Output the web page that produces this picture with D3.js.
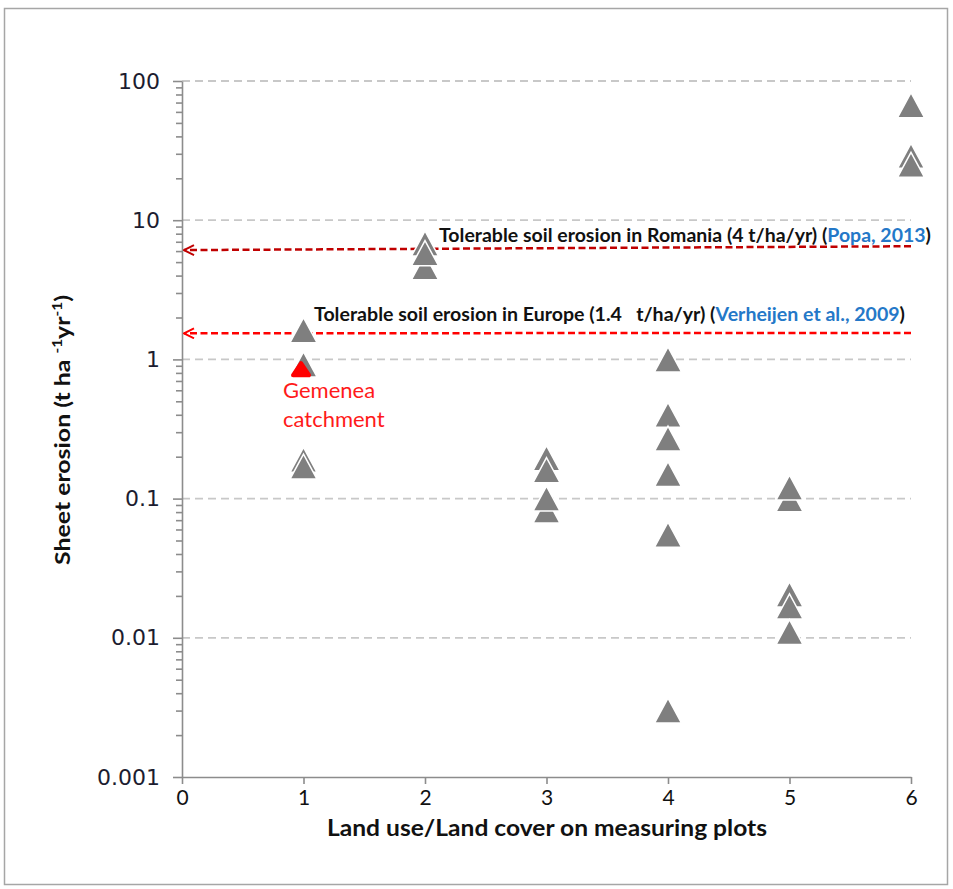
<!DOCTYPE html>
<html>
<head>
<meta charset="utf-8">
<script src="https://cdn.jsdelivr.net/npm/d3@7"></script>
<style>
body { margin: 0; background: #fff; }
text { font-family: Lato, "Open Sans", sans-serif; }
</style>
</head>
<body>
<div id="plot"></div>
<script>
// measuring plots, in draw order (later ones sit on top)
var plotLandUse = [1, 1, 1, 1,
                   2, 2, 2,
                   3, 3, 3, 3,
                   4, 4, 4, 4, 4, 4,
                   5, 5, 5, 5, 5,
                   6, 6, 6];
var plotErosion = [0.19, 0.17, 0.92, 1.62,
                   6.8, 4.6, 5.8,
                   0.195, 0.16, 0.082, 0.1,
                   1.0, 0.4, 0.27, 0.15, 0.055, 0.003,
                   0.099, 0.12, 0.0205, 0.0168, 0.011,
                   67, 29, 25];

var gemeneaLandUse = [0.98];
var gemeneaErosion = [0.85];

var yTicks = [0.001, 0.01, 0.1, 1, 10, 100];
var yTickLabels = ["0.001", "0.01", "0.1", "1", "10", "100"];
var xTicks = [0, 1, 2, 3, 4, 5, 6];

// tolerable limits: value at left (axis) and right end of the arrow line
var limitLeft = [6.1, 1.54];
var limitRight = [6.5, 1.55];
var limitColor = ["#c00000", "#ff0000"];

var W = 953, H = 889;
var svg = d3.select("#plot").append("svg")
	.attr("width", W)
	.attr("height", H);

svg.append("rect")
	.attr("x", 4.5).attr("y", 8.5)
	.attr("width", 943).attr("height", 876)
	.attr("fill", "none")
	.attr("stroke", "#a6a6a6")
	.attr("stroke-width", 1.5);

var x = d3.scaleLinear().domain([0, 6]).range([182, 911]);
var y = d3.scaleLog().domain([0.001, 100]).range([777, 81]);

// grid
svg.append("g").selectAll("line")
	.data(yTicks.slice(1))
	.enter().append("line")
	.attr("x1", x(0)).attr("x2", x(6))
	.attr("y1", function(d){ return y(d); })
	.attr("y2", function(d){ return y(d); })
	.attr("stroke", "#c8c8c8")
	.attr("stroke-width", 1.8)
	.attr("stroke-dasharray", "8,5");

// y axis minor ticks
var minor = y.ticks().filter(function(d){ return yTicks.indexOf(d) < 0; });
svg.append("g")
	.attr("transform", "translate(" + x(0) + ",0)")
	.call(d3.axisLeft(y).tickValues(minor).tickSize(6).tickSizeOuter(0).tickFormat(""))
	.call(function(g){ g.select(".domain").remove(); });

var yAxis = svg.append("g")
	.attr("transform", "translate(" + x(0) + ",0)")
	.call(d3.axisLeft(y).tickValues(yTicks).tickSize(9).tickSizeOuter(0)
		.tickFormat(function(d, i){ return yTickLabels[i]; }));
yAxis.selectAll("text")
	.attr("x", -22)
	.style("font-family", "'DejaVu Sans', Verdana, sans-serif")
	.style("font-size", "22px")
	.attr("fill", "#1c1c30");

var xAxis = svg.append("g")
	.attr("transform", "translate(0," + y(0.001) + ")")
	.call(d3.axisBottom(x).tickValues(xTicks).tickSize(7).tickSizeOuter(0)
		.tickFormat(d3.format("d")));
xAxis.selectAll("text")
	.attr("y", 13)
	.style("font-size", "21px")
	.attr("fill", "#111");

svg.selectAll(".domain, .tick line")
	.attr("stroke", "#8c8c8c")
	.attr("stroke-width", 1.6);

// axis titles
svg.append("text")
	.attr("x", 547).attr("y", 836)
	.attr("text-anchor", "middle")
	.attr("textLength", 440)
	.attr("lengthAdjust", "spacingAndGlyphs")
	.style("font-size", "22px")
	.style("font-weight", "bold")
	.attr("fill", "#111")
	.text("Land use/Land cover on measuring plots");

var yt = svg.append("text")
	.attr("transform", "translate(70,430) rotate(-90)")
	.attr("text-anchor", "middle")
	.attr("textLength", 270)
	.attr("lengthAdjust", "spacingAndGlyphs")
	.style("font-size", "21px")
	.style("font-weight", "bold")
	.attr("fill", "#111");
yt.append("tspan").text("Sheet erosion (t ha ");
yt.append("tspan").attr("dy", -8).style("font-size", "13px").text("-1");
yt.append("tspan").attr("dy", 8).text("yr");
yt.append("tspan").attr("dy", -8).style("font-size", "13px").text("-1");
yt.append("tspan").attr("dy", 8).text(")");

// tolerable limit arrows
svg.append("defs").selectAll("marker")
	.data(limitColor)
	.enter().append("marker")
	.attr("id", function(d, i){ return "arr" + i; })
	.attr("viewBox", "0 0 12 12")
	.attr("refX", 11).attr("refY", 6)
	.attr("markerWidth", 12).attr("markerHeight", 12)
	.attr("markerUnits", "userSpaceOnUse")
	.attr("orient", "auto")
	.append("path")
	.attr("d", "M1,1 L11,6 L1,11")
	.attr("fill", "none")
	.attr("stroke", function(d){ return d; })
	.attr("stroke-width", 2);

svg.append("g").selectAll("line")
	.data(limitLeft)
	.enter().append("line")
	.attr("x1", x(6)).attr("x2", x(0) + 2)
	.attr("y1", function(d, i){ return y(limitRight[i]); })
	.attr("y2", function(d){ return y(d); })
	.attr("stroke", function(d, i){ return limitColor[i]; })
	.attr("stroke-width", 2.5)
	.attr("stroke-dasharray", "7,3.5")
	.attr("marker-end", function(d, i){ return "url(#arr" + i + ")"; });

// plot markers
function tri(w, h) {
	return "M0," + (-h / 2) + "L" + (w / 2) + "," + (h / 2) + "L" + (-w / 2) + "," + (h / 2) + "Z";
}

svg.append("g").selectAll("path")
	.data(plotErosion)
	.enter().append("path")
	.attr("d", tri(27, 25))
	.attr("transform", function(d, i){ return "translate(" + x(plotLandUse[i]) + "," + y(d) + ")"; })
	.attr("fill", "#7f7f7f")
	.attr("stroke", "#fff")
	.attr("stroke-width", 1.5);

svg.append("g").selectAll("path")
	.data(gemeneaErosion)
	.enter().append("path")
	.attr("d", tri(16, 12))
	.attr("transform", function(d, i){ return "translate(" + x(gemeneaLandUse[i]) + "," + y(d) + ")"; })
	.attr("fill", "#ff0000")
	.attr("stroke", "#ff0000")
	.attr("stroke-width", 4)
	.attr("stroke-linejoin", "round");

// annotations
var t1 = svg.append("text")
	.attr("x", 439).attr("y", 242)
	.attr("textLength", 492)
	.attr("lengthAdjust", "spacingAndGlyphs")
	.style("font-size", "18px")
	.style("font-weight", "bold")
	.attr("fill", "#111");
t1.append("tspan").text("Tolerable soil erosion in Romania (4 t/ha/yr) (");
t1.append("tspan").attr("fill", "#2478c8").text("Popa, 2013");
t1.append("tspan").text(")");

var t2 = svg.append("text")
	.attr("x", 314).attr("y", 321)
	.attr("textLength", 591)
	.attr("lengthAdjust", "spacingAndGlyphs")
	.style("font-size", "18px")
	.style("font-weight", "bold")
	.style("white-space", "pre")
	.attr("fill", "#111");
t2.append("tspan").text("Tolerable soil erosion in Europe (1.4   t/ha/yr) (");
t2.append("tspan").attr("fill", "#2478c8").text("Verheijen et al., 2009");
t2.append("tspan").text(")");

svg.append("text")
	.attr("x", 283).attr("y", 398)
	.style("font-size", "22px")
	.attr("fill", "#ff1a1a")
	.text("Gemenea");
svg.append("text")
	.attr("x", 283).attr("y", 427)
	.style("font-size", "22px")
	.attr("fill", "#ff1a1a")
	.text("catchment");
</script>
</body>
</html>
